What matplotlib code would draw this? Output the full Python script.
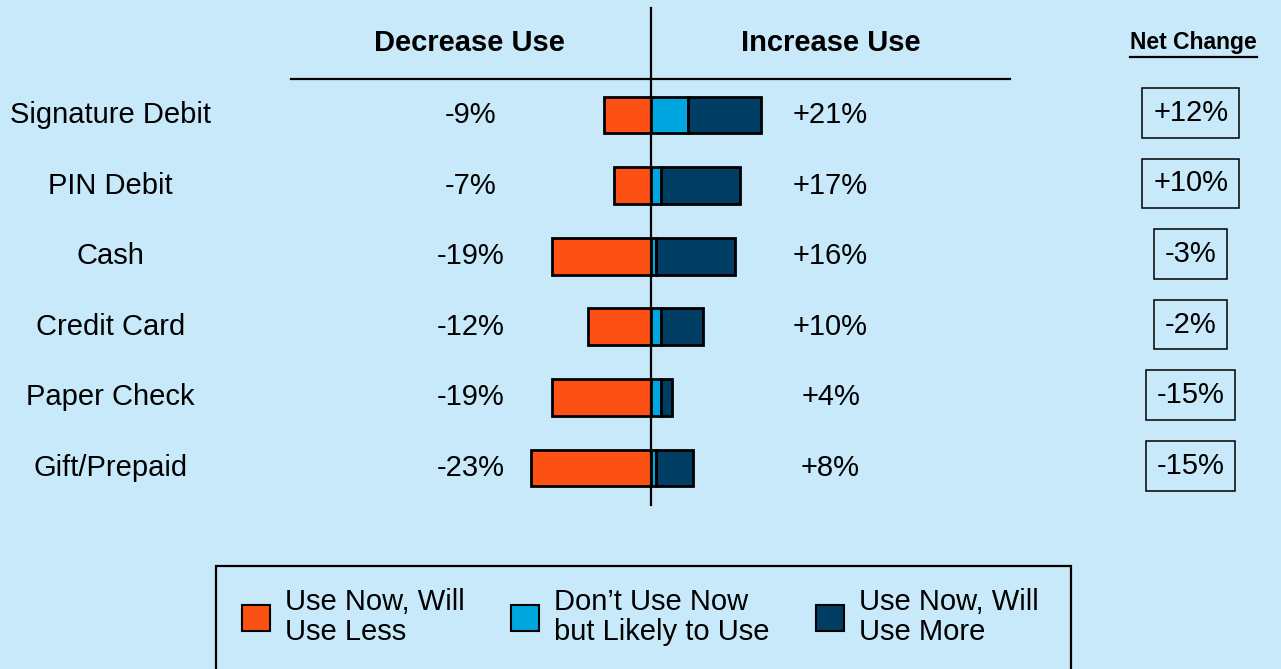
import matplotlib
matplotlib.use("Agg")
import matplotlib.pyplot as plt
from matplotlib.patches import Patch, Rectangle

plt.rcParams['font.family'] = ['Liberation Sans', 'DejaVu Sans']

categories = ["Signature Debit", "PIN Debit", "Cash", "Credit Card", "Paper Check", "Gift/Prepaid"]
use_less = [9, 7, 19, 12, 19, 23]          # Use Now, Will Use Less
likely_use = [7, 2, 1, 2, 2, 1]            # Don't Use Now but Likely to Use
use_more = [14, 15, 15, 8, 2, 7]           # Use Now, Will Use More
legend_labels = ["Use Now, Will\nUse Less", "Don\u2019t Use Now\nbut Likely to Use", "Use Now, Will\nUse More"]

bg = '#C7E9F9'
c_less = '#FD5014'
c_likely = '#00A6DF'
c_more = '#003F63'

fig = plt.figure(figsize=(12.81, 6.69), dpi=100, facecolor=bg)
ax = fig.add_axes([0, 0, 1, 1])
ax.set_facecolor(bg)
ax.axis('off')

# pixel layout: zero at x=651, 5.22 px per percent; rows at y=115 + 70.6*i
px = 5.22
ax.set_xlim(-651 / px, (1281 - 651) / px)
ax.set_ylim((669 - 115) / 70.6, -115 / 70.6)

y = list(range(len(categories)))
h = 0.52
lw = 2.0
ax.barh(y, [-v for v in use_less], height=h, color=c_less, edgecolor='black', linewidth=lw, zorder=2)
ax.barh(y, likely_use, height=h, color=c_likely, edgecolor='black', linewidth=lw, zorder=2)
ax.barh(y, use_more, left=likely_use, height=h, color=c_more, edgecolor='black', linewidth=lw, zorder=2)

# axis lines
ax.plot([0, 0], [-1.52, 5.52], color='black', lw=1.6, zorder=3)
ax.plot([-69.0, 68.8], [-0.51, -0.51], color='black', lw=1.6, zorder=3)

fs = 21
ax.text(-34.7, -1.02, "Decrease Use", ha='center', va='center', fontsize=fs, fontweight='bold')
ax.text(34.4, -1.02, "Increase Use", ha='center', va='center', fontsize=fs, fontweight='bold')
ax.text(103.9, -1.02, "Net Change", ha='center', va='center', fontsize=16.5, fontweight='bold')
ax.plot([91.7, 116.1], [-0.82, -0.82], color='black', lw=1.6)

for i, cat in enumerate(categories):
    inc = likely_use[i] + use_more[i]
    net = inc - use_less[i]
    ax.text(-103.5, i, cat, ha='center', va='center', fontsize=fs)
    ax.text(-34.5, i, "-%d%%" % use_less[i], ha='center', va='center', fontsize=fs)
    ax.text(34.4, i, "+%d%%" % inc, ha='center', va='center', fontsize=fs)
    ax.text(103.4, i - 0.03, "%+d%%" % net, ha='center', va='center', fontsize=fs,
            bbox=dict(boxstyle='square,pad=0.37', facecolor='none', edgecolor='black', linewidth=1.1))

# legend frame
fig.patches.append(Rectangle((216 / 1281, -0.05), 855 / 1281, 0.05 + 1 - 566 / 669,
                             transform=fig.transFigure, facecolor='none', edgecolor='black',
                             linewidth=1.6, zorder=5))
handles = [Patch(facecolor=c, edgecolor='black', linewidth=1.5) for c in (c_less, c_likely, c_more)]
leg = fig.legend(handles, legend_labels, ncol=3, loc='center left',
                 bbox_to_anchor=(242 / 1281, 1 - 617 / 669), frameon=False, fontsize=fs,
                 handlelength=0.95, handleheight=0.95, handletextpad=0.52, columnspacing=1.6,
                 borderpad=0, borderaxespad=0)
for t in leg.get_texts():
    t.set_linespacing(1.12)

fig.savefig("out.png", dpi=100, facecolor=bg)
